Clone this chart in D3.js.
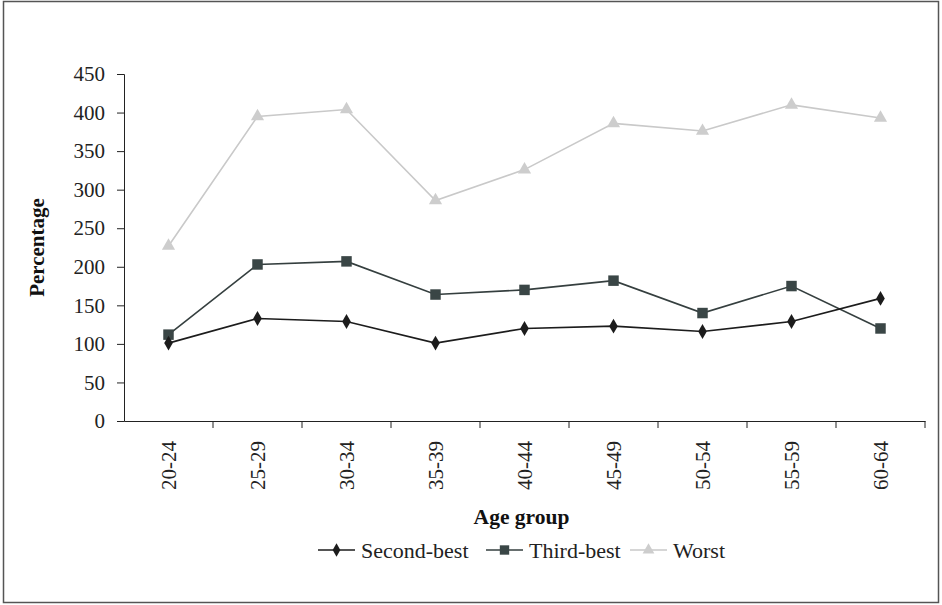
<!DOCTYPE html>
<html>
<head>
<meta charset="utf-8">
<script src="https://cdn.jsdelivr.net/npm/d3@7"></script>
<style>
  body { margin: 0; background: #fff; }
  svg { display: block; }
  svg text { font-family: "Liberation Serif", "Times New Roman", "DejaVu Serif", serif; }
</style>
</head>
<body>
<svg id="chart" width="942" height="605"></svg>
<script>
// values
const ageGroups = ["20-24", "25-29", "30-34", "35-39", "40-44", "45-49", "50-54", "55-59", "60-64"];
const secondBest = [101, 133, 129, 101, 120, 123, 116, 129, 159];
const thirdBest = [112, 203, 207, 164, 170, 182, 140, 175, 120];
const worst = [227, 395, 404, 286, 326, 386, 376, 410, 393];
const yTicks = [0, 50, 100, 150, 200, 250, 300, 350, 400, 450];

const series = [
    {name: "Second-best", values: secondBest, color: "#1c1c1c", fill: "#1c1c1c", shape: d3.symbolDiamond, size: 64},
    {name: "Third-best", values: thirdBest, color: "#353f3f", fill: "#3a4646", shape: d3.symbolSquare, size: 110},
    {name: "Worst", values: worst, color: "#c9c9c9", fill: "#cdcdcd", shape: d3.symbolTriangle, size: 75}
];

const svg = d3.select("#chart");
const plotL = 124, plotR = 925, plotT = 74, plotB = 421;

// outer frame
svg.append("rect")
    .attr("x", 3.5).attr("y", 1.5)
    .attr("width", 935).attr("height", 601)
    .attr("fill", "none").attr("stroke", "#555").attr("stroke-width", 1.5);

const x = d3.scaleBand().domain(ageGroups).range([plotL, plotR]);
const y = d3.scaleLinear().domain([0, 450]).range([plotB, plotT]);

// y axis
const yAxis = svg.append("g")
    .attr("transform", `translate(${plotL},0)`)
    .call(d3.axisLeft(y).tickValues(yTicks).tickSize(7).tickPadding(12));
yAxis.attr("font-family", null).attr("font-size", null);
yAxis.selectAll("text").style("font-size", "21px").attr("fill", "#222");
yAxis.selectAll("line, path").attr("stroke", "#222");

// x axis
const xAxis = svg.append("g")
    .attr("transform", `translate(0,${plotB})`)
    .call(d3.axisBottom(x).tickSizeOuter(0).tickSize(0));
xAxis.attr("font-family", null).attr("font-size", null);
xAxis.select(".domain").attr("stroke", "#222");
xAxis.selectAll(".tick text")
    .style("font-size", "21px").attr("fill", "#222")
    .attr("transform", "rotate(-90)")
    .attr("text-anchor", "end")
    .attr("x", -20).attr("y", 0).attr("dy", "0.35em");
// tick marks between bands
xAxis.selectAll(".sep")
    .data(ageGroups)
    .join("line")
    .attr("x1", d => x(d) + x.bandwidth()).attr("x2", d => x(d) + x.bandwidth())
    .attr("y1", 0).attr("y2", 7)
    .attr("stroke", "#222");

// axis titles
svg.append("text")
    .attr("transform", `translate(44,${(plotT + plotB) / 2}) rotate(-90)`)
    .attr("text-anchor", "middle")
    .style("font-size", "21px").attr("font-weight", "bold").attr("fill", "#111")
    .text("Percentage");
svg.append("text")
    .attr("x", (plotL + plotR) / 2 - 3).attr("y", 524)
    .attr("text-anchor", "middle")
    .style("font-size", "21.5px").attr("font-weight", "bold").attr("fill", "#111")
    .text("Age group");

const line = d3.line()
    .x((d, i) => x(ageGroups[i]) + x.bandwidth() / 2)
    .y(d => y(d));

// draw lighter series first so the dark ones sit on top
series.slice().reverse().forEach(s => {
    const g = svg.append("g");
    g.append("path")
        .attr("d", line(s.values))
        .attr("fill", "none").attr("stroke", s.color).attr("stroke-width", 1.6);
    g.selectAll("path.m")
        .data(s.values)
        .join("path")
        .attr("class", "m")
        .attr("transform", (d, i) => `translate(${x(ageGroups[i]) + x.bandwidth() / 2},${y(d)})`)
        .attr("d", d3.symbol().type(s.shape).size(s.size))
        .attr("fill", s.fill);
});

// legend
const legendX = [318, 486, 630];
series.forEach((s, i) => {
    const g = svg.append("g").attr("transform", `translate(${legendX[i]},550)`);
    g.append("line").attr("x1", 0).attr("x2", 37).attr("stroke", s.color).attr("stroke-width", 1.6);
    g.append("path")
        .attr("transform", "translate(18.5,0)")
        .attr("d", d3.symbol().type(s.shape).size(s.size * 0.8))
        .attr("fill", s.fill);
    g.append("text")
        .attr("x", 43).attr("dy", "0.35em")
        .style("font-size", "22px").attr("fill", "#222")
        .text(s.name);
});
</script>
</body>
</html>
